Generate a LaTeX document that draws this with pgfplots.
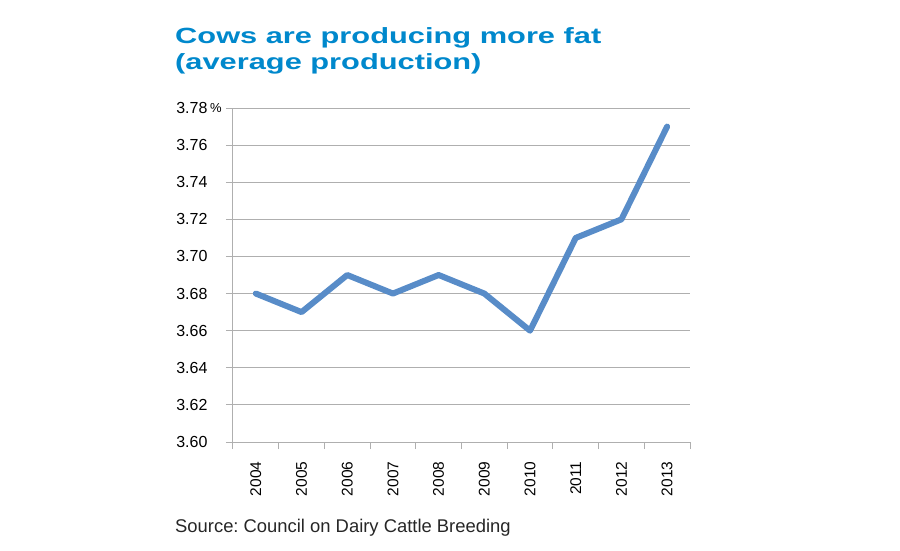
\documentclass[border=0pt]{standalone}
\usepackage{pgfplots}
\pgfplotsset{compat=1.18}
\usepackage{fontspec}
\setmainfont{Liberation Sans}
\newfontfamily\titlefont[FakeStretch=1.40]{Liberation Sans}
\definecolor{titleblue}{RGB}{0,136,204}
\definecolor{lineblue}{RGB}{88,140,200}
\definecolor{gridgray}{RGB}{175,175,175}
\frenchspacing
\begin{document}
\begin{tikzpicture}[x=1pt,y=1pt]
\useasboundingbox (-233,-108) rectangle (667,442);
\begin{axis}[
  at={(0pt,0pt)}, anchor=south west,
  scale only axis, width=457pt, height=334pt,
  xmin=-0.5, xmax=9.5, ymin=3.60, ymax=3.78,
  axis x line*=bottom, axis y line*=left,
  axis line style={gridgray, line width=1pt},
  xtick={0,...,9},
  xticklabels={2004,2005,2006,2007,2008,2009,2010,2011,2012,2013},
  x tick label style={rotate=90, anchor=east, font=\fontsize{15.5}{15.5}\selectfont, xshift=-9pt},
  minor xtick={-0.5,0.5,...,9.5},
  major x tick style={draw=none},
  minor tick length=7pt,
  major tick length=7pt,
  tick align=outside,
  tick style={gridgray, line width=1pt},
  ytick={3.60,3.62,...,3.781},
  yticklabels={3.60,3.62,3.64,3.66,3.68,3.70,3.72,3.74,3.76,3.78\rlap{\,\raisebox{1pt}{\fontsize{13}{13}\selectfont\%}}},
  y tick label style={font=\fontsize{16}{16}\selectfont, xshift=-15pt},
  ymajorgrids,
  grid style={gridgray, line width=1pt},
  clip=false,
]
\addplot[lineblue, line width=6pt, line join=round, line cap=round] coordinates {
(0,3.68) (1,3.67) (2,3.69) (3,3.68) (4,3.69) (5,3.68) (6,3.66) (7,3.71) (8,3.72) (9,3.77)
};
\end{axis}
\node[anchor=base west, inner sep=0, text=titleblue, font=\titlefont\bfseries\fontsize{22}{22}\selectfont] at (-58,399) {Cows are producing more fat};
\node[anchor=base west, inner sep=0, text=titleblue, font=\titlefont\bfseries\fontsize{22}{22}\selectfont] at (-58,373) {(average production)};
\node[anchor=base west, inner sep=0, font=\fontsize{18.4}{18.4}\selectfont, text=black!85] at (-58,-90) {Source: Council on Dairy Cattle Breeding};
\end{tikzpicture}
\end{document}
